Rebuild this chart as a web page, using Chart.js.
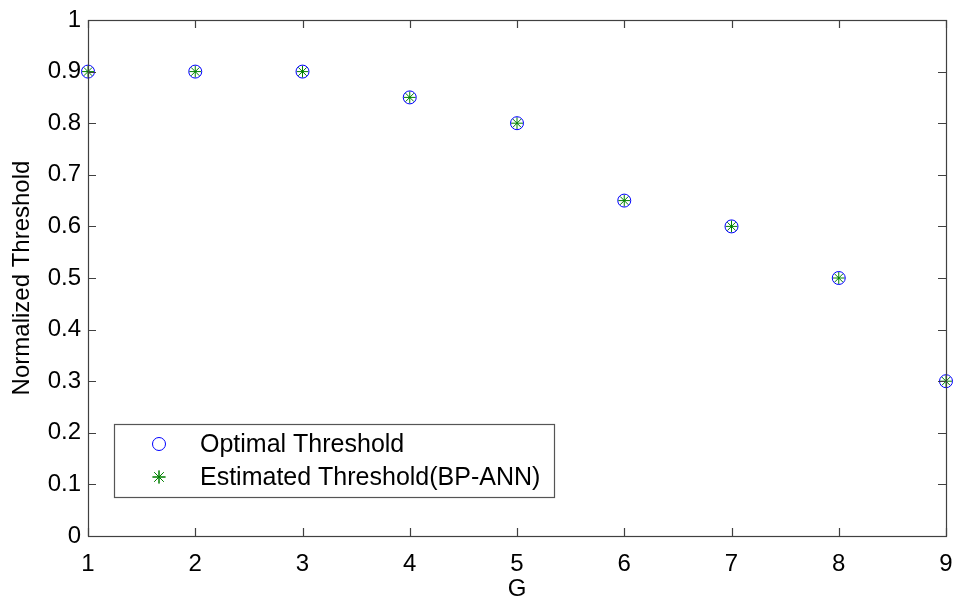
<!DOCTYPE html>
<html>
<head>
<meta charset="utf-8">
<script src="https://cdn.jsdelivr.net/npm/chart.js@4/dist/chart.umd.min.js"></script>
<style>
  html, body { margin: 0; padding: 0; background: #fff; }
  #wrap { width: 957px; height: 601px; }
</style>
</head>
<body>
<div id="wrap"><canvas id="chart" width="957" height="601"></canvas></div>
<script>
"use strict";

// values
const gValues = [1, 2, 3, 4, 5, 6, 7, 8, 9];
const optimalThreshold = [0.9, 0.9, 0.9, 0.85, 0.8, 0.65, 0.6, 0.5, 0.3];
const estimatedThreshold = [0.9, 0.9, 0.9, 0.85, 0.8, 0.65, 0.6, 0.5, 0.3];
const xTicks = [1, 2, 3, 4, 5, 6, 7, 8, 9];
const yTicks = [0, 0.1, 0.2, 0.3, 0.4, 0.5, 0.6, 0.7, 0.8, 0.9, 1];
const seriesNames = ["Optimal Threshold", "Estimated Threshold(BP-ANN)"];

const FONT = "'Liberation Sans', Arial, Helvetica, sans-serif";
const AXIS_COLOR = "#404040";

const toPoints = (ys) => gValues.map((g, i) => ({ x: g, y: ys[i] }));

// MATLAB style box: frame + inward ticks on all four sides, legend in the corner
const matlabBox = {
  id: "matlabBox",
  afterDraw(chart) {
    const { ctx, chartArea: a, scales } = chart;
    const tl = 8;
    ctx.save();
    ctx.strokeStyle = AXIS_COLOR;
    ctx.lineWidth = 1.2;
    ctx.strokeRect(a.left + 0.5, a.top + 0.5, a.right - a.left, a.bottom - a.top);

    ctx.beginPath();
    xTicks.forEach((v) => {
      const x = Math.round(scales.x.getPixelForValue(v)) + 0.5;
      ctx.moveTo(x, a.bottom);
      ctx.lineTo(x, a.bottom - tl);
      ctx.moveTo(x, a.top);
      ctx.lineTo(x, a.top + tl);
    });
    yTicks.forEach((v) => {
      const y = Math.round(scales.y.getPixelForValue(v)) + 0.5;
      ctx.moveTo(a.left, y);
      ctx.lineTo(a.left + tl, y);
      ctx.moveTo(a.right, y);
      ctx.lineTo(a.right - tl, y);
    });
    ctx.stroke();

    // legend
    const lx = 114, ly = 424, lw = 440, lh = 73;
    ctx.fillStyle = "#fff";
    ctx.fillRect(lx, ly, lw, lh);
    ctx.strokeStyle = "#555";
    ctx.lineWidth = 1.2;
    ctx.strokeRect(lx + 0.5, ly + 0.5, lw, lh);

    const rows = [444, 477];
    chart.data.datasets.forEach((ds, i) => {
      const mx = 159, my = rows[i];
      ctx.strokeStyle = ds.borderColor;
      ctx.lineWidth = 1;
      if (ds.pointStyle === "circle") {
        ctx.beginPath();
        ctx.arc(mx, my, 6.5, 0, Math.PI * 2);
        ctx.stroke();
      } else {
        Chart.helpers.drawPoint(ctx, { pointStyle: "star", radius: 6.5, borderWidth: 1 }, mx, my);
        ctx.stroke();
      }
      ctx.fillStyle = "#000";
      ctx.font = "25px " + FONT;
      ctx.textBaseline = "middle";
      ctx.textAlign = "left";
      ctx.fillText(seriesNames[i], 200, my + 1);
    });
    ctx.restore();
  },
};

const config = {
  type: "scatter",
  data: {
    datasets: [
      {
        label: seriesNames[0],
        data: toPoints(optimalThreshold),
        pointStyle: "circle",
        pointRadius: 6.5,
        pointBorderWidth: 1,
        borderColor: "#0000ff",
        backgroundColor: "rgba(0,0,0,0)",
        clip: false,
      },
      {
        label: seriesNames[1],
        data: toPoints(estimatedThreshold),
        pointStyle: "star",
        pointRadius: 6,
        pointBorderWidth: 1,
        borderColor: "#008000",
        backgroundColor: "#008000",
        clip: false,
      },
    ],
  },
  options: {
    responsive: false,
    animation: false,
    events: [],
    layout: { padding: { top: 20, right: 11, left: 0, bottom: 0 } },
    plugins: {
      legend: { display: false },
      tooltip: { enabled: false },
    },
    scales: {
      x: {
        type: "linear",
        min: 1,
        max: 9,
        afterFit(scale) {
          scale.height = 65;
          scale.paddingLeft = 0;
          scale.paddingRight = 0;
        },
        afterBuildTicks(scale) { scale.ticks = xTicks.map((v) => ({ value: v })); },
        grid: { display: false, drawTicks: false },
        border: { display: false },
        ticks: {
          padding: 14,
          color: "#000",
          font: { family: FONT, size: 24 },
          maxRotation: 0,
        },
        title: {
          display: true,
          text: "G",
          color: "#000",
          font: { family: FONT, size: 24, lineHeight: 1 },
          padding: 0,
        },
      },
      y: {
        type: "linear",
        min: 0,
        max: 1,
        afterFit(scale) {
          scale.width = 88;
          scale.paddingTop = 0;
          scale.paddingBottom = 0;
        },
        afterBuildTicks(scale) { scale.ticks = yTicks.map((v) => ({ value: v })); },
        grid: { display: false, drawTicks: false },
        border: { display: false },
        ticks: {
          padding: 7,
          color: "#000",
          font: { family: FONT, size: 24 },
          callback: (v) => String(Math.round(v * 10) / 10),
        },
        title: {
          display: true,
          text: "Normalized Threshold",
          color: "#000",
          font: { family: FONT, size: 24, lineHeight: 1 },
          padding: { top: 10, bottom: 0 },
        },
      },
    },
  },
  plugins: [matlabBox],
};

const myChart = new Chart(document.getElementById("chart"), config);
</script>
</body>
</html>
